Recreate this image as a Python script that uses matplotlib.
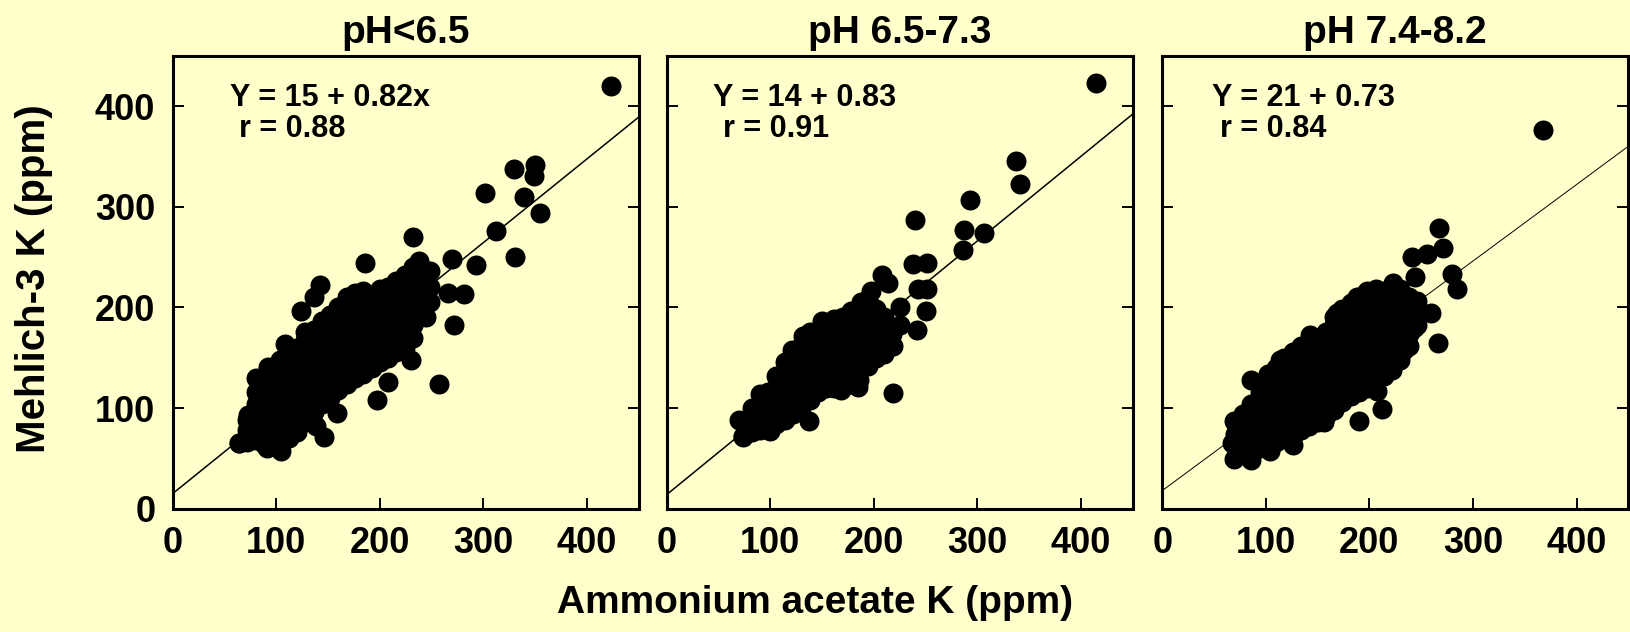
import matplotlib
matplotlib.use("Agg")
import matplotlib.pyplot as plt

# ---------------- data ----------------
titles = ["pH<6.5", "pH 6.5-7.3", "pH 7.4-8.2"]
eq_texts = ["Y = 15 + 0.82x", "Y = 14 + 0.83", "Y = 21 + 0.73"]
r_texts = ["r = 0.88", "r = 0.91", "r = 0.84"]
ticks = [0, 100, 200, 300, 400]
xlabel = "Ammonium acetate K (ppm)"
ylabel = "Mehlich-3 K (ppm)"

# fitted lines as drawn: y at x=0 and at x=450
line_x = [0, 450]
p1_line_y = [15, 389]
p2_line_y = [14, 392]
p3_line_y = [18, 360]

# Panel 1 (pH<6.5): dense band, column by column
p1_cols_x = [64, 72, 80, 88, 96, 104, 112, 120, 128, 136, 144, 152, 160, 168,
             176, 184, 192, 200, 208, 216, 224, 232, 240, 248]
p1_cols_y = [
    [65],
    [66, 78, 88],
    [68, 80, 92, 104, 116],
    [64, 76, 88, 100, 112, 124],
    [62, 74, 86, 98, 110, 122, 132],
    [66, 78, 90, 102, 114, 126, 138, 148],
    [70, 82, 94, 106, 118, 130, 142, 154],
    [76, 88, 100, 112, 124, 136, 148, 160],
    [86, 98, 110, 122, 134, 146, 158, 168],
    [96, 108, 120, 132, 144, 156, 168, 178],
    [104, 116, 128, 140, 152, 164, 176, 186],
    [110, 122, 134, 146, 158, 170, 182, 192],
    [118, 130, 142, 154, 166, 178, 190, 200],
    [124, 136, 148, 160, 172, 184, 196, 210],
    [130, 142, 154, 166, 178, 190, 202, 214],
    [134, 146, 158, 170, 182, 194, 206, 216],
    [140, 152, 164, 176, 188, 200, 212],
    [146, 158, 170, 182, 194, 206, 218],
    [150, 162, 174, 186, 198, 210, 220],
    [156, 168, 180, 192, 204, 216, 226],
    [160, 172, 184, 196, 208, 220, 232],
    [170, 182, 194, 206, 218, 232, 240],
    [190, 202, 214, 226, 238],
    [205, 220, 236],
]
p1_out_x = [423, 330, 350, 349, 302, 339, 355, 312, 331, 293, 270, 266, 281, 272,
            257, 232, 186, 238, 245, 230, 208, 197, 159, 146, 142, 136, 124, 128,
            108, 80, 92, 64, 105, 91, 73, 138]
p1_out_y = [420, 337, 341, 330, 314, 310, 294, 276, 250, 242, 248, 214, 213, 182,
            124, 270, 244, 246, 190, 148, 126, 108, 95, 71, 222, 210, 196, 176,
            164, 130, 141, 65, 57, 60, 93, 82]

# Panel 2 (pH 6.5-7.3)
p2_cols_x = [74, 82, 90, 98, 106, 114, 122, 130, 138, 146, 154, 162, 170, 178,
             186, 194, 202, 210, 218]
p2_cols_y = [
    [72, 86],
    [76, 88, 100],
    [78, 90, 102, 114],
    [80, 92, 104, 116],
    [84, 96, 108, 120, 132],
    [88, 100, 112, 124, 136, 146],
    [94, 106, 118, 130, 142, 156],
    [100, 112, 124, 136, 148, 162],
    [108, 120, 132, 144, 156, 168, 176],
    [116, 128, 140, 152, 164, 176],
    [120, 132, 144, 156, 168, 180],
    [120, 132, 144, 156, 168, 180, 188],
    [122, 134, 146, 158, 170, 182, 190],
    [124, 136, 148, 160, 172, 184, 196],
    [128, 140, 152, 164, 176, 188, 200],
    [142, 154, 166, 178, 190, 208],
    [150, 162, 174, 186, 198],
    [154, 166, 178, 190],
    [162, 174],
]
p2_out_x = [415, 337, 341, 293, 287, 306, 286, 240, 238, 251, 243, 251, 250, 242,
            225, 225, 219, 208, 214, 197, 188, 137, 74, 70, 100, 168, 185, 219,
            121, 132, 150, 168]
p2_out_y = [423, 345, 323, 307, 277, 274, 257, 287, 243, 244, 218, 218, 196, 178,
            200, 182, 115, 232, 224, 216, 205, 87, 71, 88, 77, 118, 121, 162,
            158, 172, 186, 189]

# Panel 3 (pH 7.4-8.2)
p3_cols_x = [70, 78, 86, 94, 102, 110, 118, 126, 134, 142, 150, 158, 166, 174,
             182, 190, 198, 206, 214, 222, 230, 238, 246]
p3_cols_y = [
    [62, 74, 86],
    [60, 72, 84, 94],
    [58, 70, 82, 94, 104],
    [60, 72, 84, 96, 108, 116],
    [62, 74, 86, 98, 110, 122, 134],
    [66, 78, 90, 102, 114, 126, 140],
    [70, 82, 94, 106, 118, 130, 142, 150],
    [72, 84, 96, 108, 120, 132, 144, 156],
    [78, 90, 102, 114, 126, 138, 150, 162],
    [82, 94, 106, 118, 130, 142, 154, 166],
    [86, 98, 110, 122, 134, 146, 158, 170],
    [92, 104, 116, 128, 140, 152, 164, 176],
    [98, 110, 122, 134, 146, 158, 170, 182, 190],
    [106, 118, 130, 142, 154, 166, 178, 190, 198],
    [112, 124, 136, 148, 160, 172, 184, 196, 204],
    [116, 128, 140, 152, 164, 176, 188, 200, 210],
    [120, 132, 144, 156, 168, 180, 192, 204, 214],
    [126, 138, 150, 162, 174, 186, 198, 210, 218],
    [132, 144, 156, 168, 180, 192, 204, 216],
    [138, 150, 162, 174, 186, 198, 210, 220],
    [148, 160, 172, 184, 196, 208, 218],
    [162, 174, 186, 198, 210],
    [182, 194, 206],
]
p3_out_x = [368, 267, 271, 256, 241, 244, 280, 285, 259, 266, 243, 233, 212, 190,
            207, 156, 126, 104, 86, 69, 67, 69, 86, 114, 143, 169, 188, 198, 223,
            107, 93]
p3_out_y = [376, 279, 259, 253, 250, 230, 233, 218, 194, 165, 180, 158, 99, 87,
            117, 86, 63, 57, 48, 49, 65, 87, 128, 148, 173, 194, 210, 216, 224,
            126, 101]

# text positions (data coords)
eq_pos = [(55, 408), (45, 408), (48, 408)]
r_pos = [(64, 377), (54, 377), (56, 377)]

# ---------------- figure ----------------
BG = "#FFFFCC"
FONT = "Liberation Sans"
plt.rcParams["font.family"] = [FONT, "DejaVu Sans"]
plt.rcParams["font.weight"] = "bold"

W, H = 1630, 632
fig = plt.figure(figsize=(W / 100, H / 100), dpi=100, facecolor=BG)

ax_lefts = [172.7, 666.7, 1162.3]
ax_w = 466.0
ax_top, ax_bot = 55.7, 508.7

def flatten(cols_x, cols_y):
    xs, ys = [], []
    for cx, cy in zip(cols_x, cols_y):
        for v in cy:
            xs.append(cx)
            ys.append(v)
    return xs, ys

panels = [
    (p1_cols_x, p1_cols_y, p1_out_x, p1_out_y, p1_line_y, 1.1),
    (p2_cols_x, p2_cols_y, p2_out_x, p2_out_y, p2_line_y, 1.1),
    (p3_cols_x, p3_cols_y, p3_out_x, p3_out_y, p3_line_y, 0.7),
]

for i, (cx, cy, ox, oy, ly, lw) in enumerate(panels):
    ax = fig.add_axes([ax_lefts[i] / W, 1 - ax_bot / H, ax_w / W, (ax_bot - ax_top) / H])
    ax.set_facecolor(BG)
    bx, by = flatten(cx, cy)
    ax.plot(bx + ox, by + oy, "o", color="black", ms=14.4, mew=0, zorder=3)
    ax.plot(line_x, ly, color="black", lw=lw, zorder=2)
    ax.set_xlim(0, 450)
    ax.set_ylim(0, 450)
    ax.set_xticks(ticks)
    ax.set_yticks(ticks)
    ax.tick_params(axis="both", direction="in", length=7.7, width=1.4,
                   labelsize=26, pad=12.5)
    ax.tick_params(axis="y", right=True, left=True)
    ax.tick_params(axis="x", top=False)
    for lab in ax.get_xticklabels() + ax.get_yticklabels():
        lab.set_fontweight("bold")
    if i > 0:
        ax.set_yticklabels([])
    for sp in ax.spines.values():
        sp.set_linewidth(2.2)
    ax.set_title(titles[i], fontsize=28, fontweight="bold", pad=9)
    ax.text(eq_pos[i][0], eq_pos[i][1], eq_texts[i], fontsize=22,
            fontweight="bold", ha="left", va="center")
    ax.text(r_pos[i][0], r_pos[i][1], r_texts[i], fontsize=22,
            fontweight="bold", ha="left", va="center")

fig.text(0.5, 1 - 603 / H, xlabel, fontsize=28, fontweight="bold",
         ha="center", va="center")
fig.text(34 / W, 1 - 279 / H, ylabel, fontsize=29, fontweight="bold",
         ha="center", va="center", rotation=90)

fig.savefig("out.png", dpi=100, facecolor=BG)
